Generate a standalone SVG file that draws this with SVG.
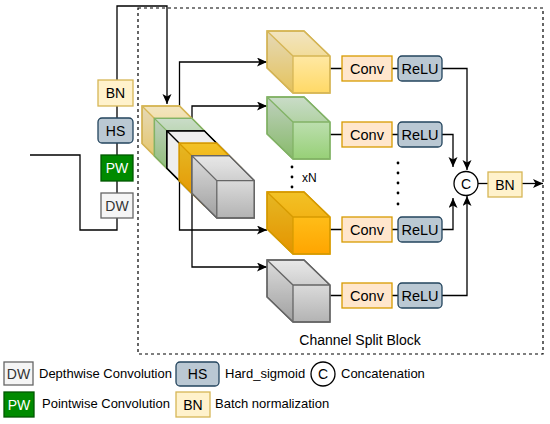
<svg xmlns="http://www.w3.org/2000/svg" width="550" height="424" viewBox="0 0 550 424">
<defs>
<linearGradient id="gTan" x1="0" y1="0" x2="0" y2="1"><stop offset="0" stop-color="#fff2cc"/><stop offset="1" stop-color="#ffd966"/></linearGradient>
<linearGradient id="gGreen" x1="0" y1="0" x2="0" y2="1"><stop offset="0" stop-color="#d5e8d4"/><stop offset="1" stop-color="#97d077"/></linearGradient>
<linearGradient id="gOrange" x1="0" y1="0" x2="0" y2="1"><stop offset="0" stop-color="#ffcd28"/><stop offset="1" stop-color="#ffa500"/></linearGradient>
<linearGradient id="gGray" x1="0" y1="0" x2="0" y2="1"><stop offset="0" stop-color="#f5f5f5"/><stop offset="1" stop-color="#b3b3b3"/></linearGradient>
<marker id="arr" markerUnits="userSpaceOnUse" markerWidth="12" markerHeight="10" refX="10" refY="4.5" orient="auto"><path d="M0,0 L10,4.5 L0,9 L2.5,4.5 z" fill="#000"/></marker>
</defs>
<style>
.ln{fill:none;stroke:#000;stroke-width:1.3}
.t{font-family:"Liberation Sans",Arial,sans-serif;font-size:14px;text-anchor:middle;fill:#000}
.tl{font-family:"Liberation Sans",Arial,sans-serif;font-size:13px;fill:#000}
.bn{fill:#fff2cc;stroke:#d6b656;stroke-width:1.3}
.hs{fill:#bac8d3;stroke:#23445d;stroke-width:1.3}
.pw{fill:#008a00;stroke:#005700;stroke-width:1.3}
.dw{fill:#f5f5f5;stroke:#666666;stroke-width:1.3}
.cv{fill:#ffe6cc;stroke:#d79b00;stroke-width:1.3}
.sh1{fill:#000;fill-opacity:0.05;stroke:none}
.sh2{fill:#000;fill-opacity:0.1;stroke:none}
.tan{stroke:#d6b656;stroke-width:1.3}
.grn{stroke:#82b366;stroke-width:1.3}
.org{stroke:#d79b00;stroke-width:1.3}
.gry{stroke:#666666;stroke-width:1.3}
.wht{stroke:#000;stroke-width:1.3}
.edge{fill:none}
</style>

<rect x="138" y="8" width="405" height="346" fill="none" stroke="#000" stroke-width="1.2" stroke-dasharray="3 3"/>

<g id="connectors">
<path class="ln" d="M30,155 H80 V230 H117 V6 H167 V104" marker-end="url(#arr)"/>
<path class="ln" d="M179.5,106 V62 H267" marker-end="url(#arr)"/>
<path class="ln" d="M192,118 V106 H267" marker-end="url(#arr)"/>
<path class="ln" d="M179.5,181 V230 H267" marker-end="url(#arr)"/>
<path class="ln" d="M192,193 V267 H267" marker-end="url(#arr)"/>
<path class="ln" d="M330,68.5 H342 M392,68.5 H398"/>
<path class="ln" d="M330,134.5 H342 M392,134.5 H398"/>
<path class="ln" d="M330,229.5 H342 M392,229.5 H398"/>
<path class="ln" d="M330,295.5 H342 M392,295.5 H398"/>
<path class="ln" d="M442,68.5 H467 V170" marker-end="url(#arr)"/>
<path class="ln" d="M442,134.5 H453 V167" marker-end="url(#arr)"/>
<path class="ln" d="M442,229.5 H453 V198" marker-end="url(#arr)"/>
<path class="ln" d="M442,295.5 H467 V196" marker-end="url(#arr)"/>
<path class="ln" d="M478,183.5 H488"/>
<path class="ln" d="M522,183.5 H543" marker-end="url(#arr)"/>
</g>

<g id="bn1"><rect class="bn" x="98" y="80" width="35" height="26"/><text class="t" x="115.5" y="98">BN</text></g>
<g id="hs1"><rect class="hs" x="98" y="118" width="35" height="25" rx="4"/><text class="t" x="115.5" y="135.5">HS</text></g>
<g id="pw1"><rect class="pw" x="101" y="155" width="32" height="26"/><text class="t" x="117" y="173" fill="#fff" style="fill:#fff">PW</text></g>
<g id="dw1"><rect class="dw" x="101" y="193" width="32" height="25"/><text class="t" x="117" y="210.5" style="fill:#333">DW</text></g>

<g id="stack">
<g class="tan">
<path d="M142,106 H179.5 L204.5,131 V168.5 H167 L142,143.5 Z" fill="url(#gTan)"/>
<path class="sh1" d="M142,106 H179.5 L204.5,131 H167 Z"/><path class="sh2" d="M142,106 L167,131 V168.5 L142,143.5 Z"/>
<path class="edge" d="M142,106 H179.5 L204.5,131 V168.5 H167 L142,143.5 Z M142,106 L167,131 H204.5 M167,131 V168.5"/>
</g>
<g class="grn">
<path d="M154.4,118.4 H191.9 L216.9,143.4 V180.9 H179.4 L154.4,155.9 Z" fill="url(#gGreen)"/>
<path class="sh1" d="M154.4,118.4 H191.9 L216.9,143.4 H179.4 Z"/><path class="sh2" d="M154.4,118.4 L179.4,143.4 V180.9 L154.4,155.9 Z"/>
<path class="edge" d="M154.4,118.4 H191.9 L216.9,143.4 V180.9 H179.4 L154.4,155.9 Z M154.4,118.4 L179.4,143.4 H216.9 M179.4,143.4 V180.9"/>
</g>
<g class="wht">
<path d="M166.8,130.8 H204.3 L229.3,155.8 V193.3 H191.8 L166.8,168.3 Z" fill="#eeeeee"/>
<path class="edge" d="M166.8,130.8 H204.3 L229.3,155.8 V193.3 H191.8 L166.8,168.3 Z M166.8,130.8 L191.8,155.8 H229.3 M191.8,155.8 V193.3"/>
</g>
<g class="org">
<path d="M179.2,143.2 H216.7 L241.7,168.2 V205.7 H204.2 L179.2,180.7 Z" fill="url(#gOrange)"/>
<path class="sh1" d="M179.2,143.2 H216.7 L241.7,168.2 H204.2 Z"/><path class="sh2" d="M179.2,143.2 L204.2,168.2 V205.7 L179.2,180.7 Z"/>
<path class="edge" d="M179.2,143.2 H216.7 L241.7,168.2 V205.7 H204.2 L179.2,180.7 Z M179.2,143.2 L204.2,168.2 H241.7 M204.2,168.2 V205.7"/>
</g>
<g class="gry">
<path d="M191.8,155.6 H229.3 L254.3,180.6 V218 H216.8 L191.8,193.1 Z" fill="url(#gGray)"/>
<path class="sh1" d="M191.8,155.6 H229.3 L254.3,180.6 H216.8 Z"/><path class="sh2" d="M191.8,155.6 L216.8,180.6 V218 L191.8,193.1 Z"/>
<path class="edge" d="M191.8,155.6 H229.3 L254.3,180.6 V218 H216.8 L191.8,193.1 Z M191.8,155.6 L216.8,180.6 H254.3 M216.8,180.6 V218"/>
</g>
</g>

<g id="cube1" class="tan">
<path d="M267,31 H304 L330,56 V93 H293 L267,68 Z" fill="url(#gTan)"/>
<path class="sh1" d="M267,31 H304 L330,56 H293 Z"/><path class="sh2" d="M267,31 L293,56 V93 L267,68 Z"/>
<path class="edge" d="M267,31 H304 L330,56 V93 H293 L267,68 Z M267,31 L293,56 H330 M293,56 V93"/>
</g>
<g id="cube2" class="grn">
<path d="M267,97 H304 L330,122 V159 H293 L267,134 Z" fill="url(#gGreen)"/>
<path class="sh1" d="M267,97 H304 L330,122 H293 Z"/><path class="sh2" d="M267,97 L293,122 V159 L267,134 Z"/>
<path class="edge" d="M267,97 H304 L330,122 V159 H293 L267,134 Z M267,97 L293,122 H330 M293,122 V159"/>
</g>
<g id="cube3" class="org">
<path d="M267,192 H304 L330,217 V254 H293 L267,229 Z" fill="url(#gOrange)"/>
<path class="sh1" d="M267,192 H304 L330,217 H293 Z"/><path class="sh2" d="M267,192 L293,217 V254 L267,229 Z"/>
<path class="edge" d="M267,192 H304 L330,217 V254 H293 L267,229 Z M267,192 L293,217 H330 M293,217 V254"/>
</g>
<g id="cube4" class="gry">
<path d="M267,260 H304 L330,285 V322 H293 L267,297 Z" fill="url(#gGray)"/>
<path class="sh1" d="M267,260 H304 L330,285 H293 Z"/><path class="sh2" d="M267,260 L293,285 V322 L267,297 Z"/>
<path class="edge" d="M267,260 H304 L330,285 V322 H293 L267,297 Z M267,260 L293,285 H330 M293,285 V322"/>
</g>

<g id="conv1"><rect class="cv" x="342" y="56" width="50" height="25"/><text class="t" x="367" y="73.5" style="font-size:14.5px">Conv</text></g>
<g id="relu1"><rect class="hs" x="398" y="56" width="44" height="25" rx="4"/><text class="t" x="420" y="73.5" style="font-size:14.5px">ReLU</text></g>
<g id="conv2"><rect class="cv" x="342" y="122" width="50" height="25"/><text class="t" x="367" y="139.5" style="font-size:14.5px">Conv</text></g>
<g id="relu2"><rect class="hs" x="398" y="122" width="44" height="25" rx="4"/><text class="t" x="420" y="139.5" style="font-size:14.5px">ReLU</text></g>
<g id="conv3"><rect class="cv" x="342" y="217" width="50" height="25"/><text class="t" x="367" y="234.5" style="font-size:14.5px">Conv</text></g>
<g id="relu3"><rect class="hs" x="398" y="217" width="44" height="25" rx="4"/><text class="t" x="420" y="234.5" style="font-size:14.5px">ReLU</text></g>
<g id="conv4"><rect class="cv" x="342" y="283" width="50" height="25"/><text class="t" x="367" y="300.5" style="font-size:14.5px">Conv</text></g>
<g id="relu4"><rect class="hs" x="398" y="283" width="44" height="25" rx="4"/><text class="t" x="420" y="300.5" style="font-size:14.5px">ReLU</text></g>

<g id="concat"><circle cx="466" cy="183.5" r="12" fill="#fff" stroke="#000" stroke-width="1.3"/><text class="t" x="466" y="188.5">C</text></g>
<g id="bn2"><rect class="bn" x="488" y="172" width="34" height="25"/><text class="t" x="505" y="189.5">BN</text></g>

<g id="dots" fill="#000">
<circle cx="292" cy="167" r="1.4"/><circle cx="292" cy="177" r="1.4"/><circle cx="292" cy="187" r="1.4"/>
<circle cx="398" cy="163" r="1.4"/><circle cx="398" cy="173" r="1.4"/><circle cx="398" cy="183" r="1.4"/><circle cx="398" cy="193" r="1.4"/><circle cx="398" cy="204" r="1.4"/>
</g>
<text class="tl" x="302" y="182" style="font-size:12px">xN</text>
<text class="t" x="360" y="345">Channel Split Block</text>

<g id="legend">
<g id="lg-dw"><rect class="dw" x="4" y="362" width="29" height="23"/><text class="t" x="18.5" y="378.5" style="fill:#333">DW</text><text class="tl" x="39" y="378">Depthwise Convolution</text></g>
<g id="lg-hs"><rect class="hs" x="176" y="362" width="43" height="24" rx="4"/><text class="t" x="197.5" y="379">HS</text><text class="tl" x="225" y="378">Hard_sigmoid</text></g>
<g id="lg-c"><circle cx="323" cy="374" r="12" fill="#fff" stroke="#000" stroke-width="1.3"/><text class="t" x="323" y="379">C</text><text class="tl" x="341" y="378">Concatenation</text></g>
<g id="lg-pw"><rect class="pw" x="4" y="392" width="30" height="25"/><text class="t" x="19" y="409.5" style="fill:#fff">PW</text><text class="tl" x="42" y="408">Pointwise Convolution</text></g>
<g id="lg-bn"><rect class="bn" x="176" y="392" width="34" height="25"/><text class="t" x="193" y="409.5">BN</text><text class="tl" x="215" y="408">Batch normalization</text></g>
</g>
</svg>
